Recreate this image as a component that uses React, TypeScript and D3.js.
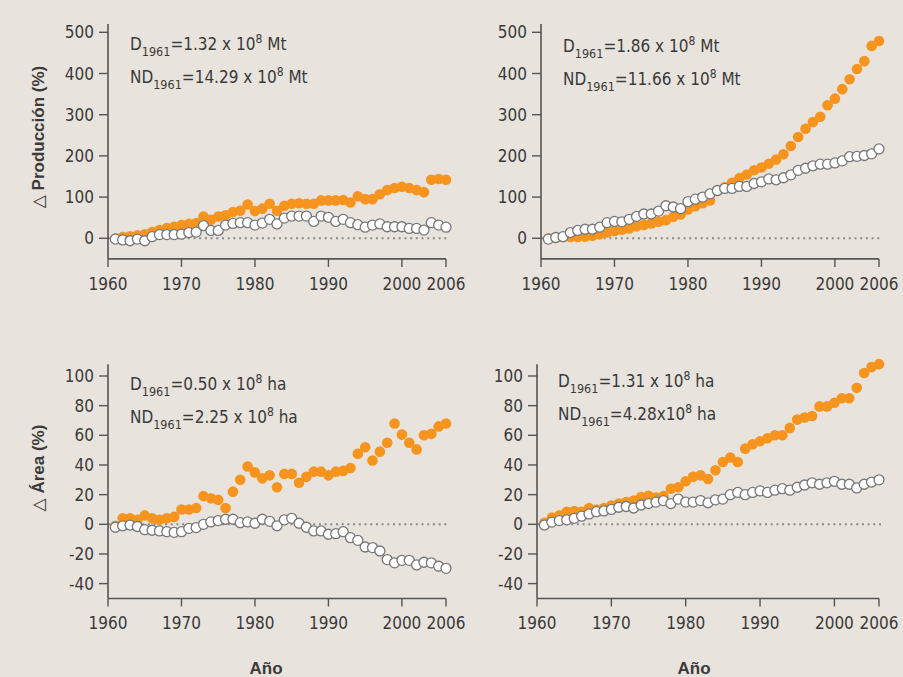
import React from "react";
import * as d3 from "d3";

const YEARS = d3.range(1961, 2007);
const X_TICKS = [1960, 1970, 1980, 1990, 2000, 2006];
const PROD_TICKS = [0, 100, 200, 300, 400, 500];
const AREA_TICKS = [-40, -20, 0, 20, 40, 60, 80, 100];

// Δ producción (%), panel izquierdo
const prodLeftD = [0, 3, 5, 7, 10, 15, 20, 25, 28, 32, 35, 37, 53, 45, 53, 56, 64, 67, 82, 66, 72, 84, 67, 79, 84, 85, 84, 84, 92, 92, 92, 93, 87, 102, 95, 95, 107, 117, 122, 125, 122, 117, 112, 142, 144, 142];
const prodLeftND = [-2, -4, -6, -2, -6, 4, 9, 9, 9, 10, 14, 15, 31, 19, 19, 32, 36, 38, 38, 32, 37, 46, 35, 49, 54, 54, 54, 41, 54, 51, 41, 46, 38, 33, 27, 32, 35, 28, 28, 28, 24, 24, 20, 38, 32, 27];
// Δ producción (%), panel derecho
const prodRightD = [0, 1, 3, 3, 3, 4, 6, 10, 14, 18, 21, 24, 29, 32, 36, 40, 44, 52, 58, 70, 78, 85, 92, 115, 124, 135, 146, 155, 165, 172, 181, 191, 204, 224, 246, 266, 282, 295, 323, 339, 362, 386, 411, 430, 467, 479];
const prodRightND = [-2, 2, 4, 14, 19, 22, 22, 27, 38, 41, 40, 46, 53, 59, 59, 66, 79, 76, 72, 89, 95, 100, 108, 116, 121, 121, 126, 126, 133, 137, 144, 142, 147, 154, 165, 170, 176, 180, 180, 183, 188, 198, 199, 201, 205, 217];
// Δ área (%), panel izquierdo
const areaLeftD = [-1, 4, 4, 3, 6, 4, 3, 4, 5, 10, 10, 11, 19, 17.5, 16.5, 11, 22, 30, 39, 35, 31, 33, 25, 34, 34, 28, 32, 35.5, 35.5, 33, 35.5, 36, 38, 47.5, 52, 43, 49, 55, 68, 60.5, 55, 50.5, 60, 61, 66, 68];
const areaLeftND = [-2, -1, -0.5, -1.5, -3.6, -4, -4.5, -5, -5.4, -5, -2.7, -2.2, 0, 1.6, 2.5, 3.4, 3.4, 1.1, 1.6, 0.7, 3.4, 2, -1, 3, 4, 0.7, -2, -4.5, -4.5, -6.7, -6.3, -5, -9, -10.8, -15.3, -15.7, -18, -23.8, -26, -24.3, -24.3, -27.4, -25.6, -26, -28.3, -29.7];
// Δ área (%), panel derecho
const areaRightD = [1, 4.5, 6, 8.5, 9, 8.5, 11, 10, 11, 12.6, 14, 15, 16, 18.4, 19.3, 18, 19, 24, 25, 29, 32, 33, 30.5, 36.4, 42, 45, 42, 51, 54, 56, 58, 60, 60, 65, 70.6, 72, 73, 79.5, 79.5, 82, 85, 85, 92, 102, 106, 108];
const areaRightND = [-0.5, 1.5, 2.5, 3, 4, 5.5, 7, 8.5, 9, 10, 11.5, 12, 11, 13, 14, 15, 16, 14, 17, 15, 15, 16, 14.5, 16.5, 17, 20, 21.5, 20, 21.5, 22.5, 21.5, 23, 24, 23, 25, 26.5, 28, 27, 28, 29, 27, 27, 24.5, 27, 28.5, 30];

const NOTES = [
  [["D", "=1.32 x 10", " Mt"], ["ND", "=14.29 x 10", " Mt"]],
  [["D", "=1.86 x 10", " Mt"], ["ND", "=11.66 x 10", " Mt"]],
  [["D", "=0.50 x 10", " ha"], ["ND", "=2.25 x 10", " ha"]],
  [["D", "=1.31 x 10", " ha"], ["ND", "=4.28x10", " ha"]],
];

const BG = "#e8e3dc";
const ORANGE = "#f7941d";
const INK = "#3a3a3a";
const AXIS = "#555";
const FONT = "'Liberation Sans Narrow', 'Arial Narrow', 'DejaVu Sans Condensed', sans-serif";

function Note({ x, y, parts }) {
  return (
    <text x={x} y={y} fontSize={17} fill={INK} fontFamily={FONT}>
      <tspan>{parts[0]}</tspan>
      <tspan fontSize={12.5} dy={6}>1961</tspan>
      <tspan dy={-6}>{parts[1]}</tspan>
      <tspan fontSize={12} dy={-7}>8</tspan>
      <tspan dy={7}>{parts[2]}</tspan>
    </text>
  );
}

function Panel({ x0, x1, yRange, domain, yTicks, axisTop, axisBottom, dSeries, ndSeries, notes, noteX, noteY }) {
  const x = d3.scaleLinear().domain([1960, 2006]).range([x0, x1]);
  const y = d3.scaleLinear().domain(domain).range(yRange);
  const base = y(axisBottom);
  return (
    <g fontFamily={FONT}>
      {/* línea de cero punteada */}
      <line x1={x0} x2={x1 + 2} y1={y(0)} y2={y(0)} stroke="#8a8a8a" strokeWidth={2} strokeDasharray="2 3.7" />
      {/* eje y */}
      <line x1={x0} x2={x0} y1={y(axisTop)} y2={base} stroke={AXIS} strokeWidth={1.6} />
      {yTicks.map((t) => (
        <g key={t}>
          <line x1={x0 - 9} x2={x0} y1={y(t)} y2={y(t)} stroke={AXIS} strokeWidth={1.4} />
          <text x={x0 - 14} y={y(t) + 6} textAnchor="end" fontSize={17} fill={INK}>{t}</text>
        </g>
      ))}
      {/* eje x */}
      <line x1={x0} x2={x1} y1={base} y2={base} stroke={AXIS} strokeWidth={1.6} />
      {X_TICKS.map((t) => (
        <g key={t}>
          <line x1={x(t)} x2={x(t)} y1={base} y2={base + 8} stroke={AXIS} strokeWidth={1.4} />
          <text x={x(t)} y={base + 31} textAnchor="middle" fontSize={17} fill={INK}>{t}</text>
        </g>
      ))}
      {dSeries.map((v, i) => (
        <circle key={"d" + i} cx={x(YEARS[i])} cy={y(v)} r={5.3} fill={ORANGE} />
      ))}
      {ndSeries.map((v, i) => (
        <circle key={"n" + i} cx={x(YEARS[i])} cy={y(v)} r={5} fill="#fff" stroke="#777" strokeWidth={1.3} />
      ))}
      <Note x={noteX} y={noteY} parts={notes[0]} />
      <Note x={noteX} y={noteY + 33} parts={notes[1]} />
    </g>
  );
}

export default function App() {
  return (
    <svg width={903} height={677} style={{ position: "absolute", left: 0, top: 0 }}>
      <rect width={903} height={677} fill={BG} />
      <Panel x0={108} x1={446} yRange={[238.3, 32.3]} domain={[0, 500]} yTicks={PROD_TICKS} axisTop={520} axisBottom={-50}
        dSeries={prodLeftD} ndSeries={prodLeftND} notes={NOTES[0]} noteX={130} noteY={50} />
      <Panel x0={541} x1={879} yRange={[238.3, 32.3]} domain={[0, 500]} yTicks={PROD_TICKS} axisTop={520} axisBottom={-50}
        dSeries={prodRightD} ndSeries={prodRightND} notes={NOTES[1]} noteX={563} noteY={52} />
      <Panel x0={108} x1={446} yRange={[524.3, 376]} domain={[0, 100]} yTicks={AREA_TICKS} axisTop={108} axisBottom={-50}
        dSeries={areaLeftD} ndSeries={areaLeftND} notes={NOTES[2]} noteX={130} noteY={390} />
      <Panel x0={537} x1={879} yRange={[524.3, 376]} domain={[0, 100]} yTicks={AREA_TICKS} axisTop={108} axisBottom={-50}
        dSeries={areaRightD} ndSeries={areaRightND} notes={NOTES[3]} noteX={558} noteY={387} />
      <g fontFamily="'Liberation Sans', 'DejaVu Sans', sans-serif" fontWeight="bold" fontSize={17} fill={INK} textAnchor="middle">
        <text transform="translate(44,137) rotate(-90)">△ Producción (%)</text>
        <text transform="translate(44,468) rotate(-90)">△ Área (%)</text>
        <text x={266} y={674}>Año</text>
        <text x={694} y={674}>Año</text>
      </g>
    </svg>
  );
}
